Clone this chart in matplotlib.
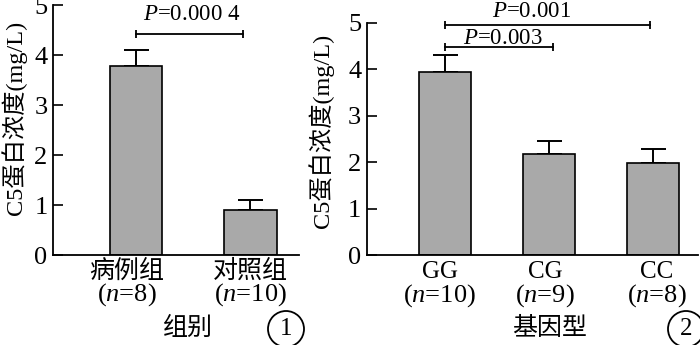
import matplotlib
matplotlib.use("Agg")
import matplotlib.pyplot as plt
from matplotlib.transforms import blended_transform_factory

plt.rcParams['font.family'] = ['Liberation Serif', 'Noto Sans CJK SC']
plt.rcParams['mathtext.fontset'] = 'custom'
plt.rcParams['mathtext.rm'] = 'Liberation Serif'
plt.rcParams['mathtext.it'] = 'Liberation Serif:italic'

# panel 1: case vs control
groups1 = ['病例组', '对照组']
n1 = ['8', '10']
means1 = [3.78, 0.90]
errs1 = [0.32, 0.20]
p1 = ['0.000 4']

# panel 2: genotypes
groups2 = ['GG', 'CG', 'CC']
n2 = ['10', '9', '8']
means2 = [3.94, 2.18, 1.99]
errs2 = [0.36, 0.28, 0.29]
p2 = ['0.003', '0.001']

W, H = 700, 345
BAR = '#a9a9a9'
fig = plt.figure(figsize=(W / 100, H / 100), dpi=100)


def px_axes(x0, x1, ytop, ybot):
    return fig.add_axes([x0 / W, 1 - ybot / H, (x1 - x0) / W, (ybot - ytop) / H])


def style(ax):
    for s in ['top', 'right']:
        ax.spines[s].set_visible(False)
    for s in ['left', 'bottom']:
        ax.spines[s].set_linewidth(1.3)
    ax.set_ylim(0, 5)
    ax.set_yticks(range(6))
    ax.tick_params(axis='y', direction='in', length=7, width=1.2, labelsize=19, pad=4)
    ax.set_xticks([])


def bars(ax, means, errs, width):
    x = list(range(len(means)))
    ax.bar(x, means, width=width, color=BAR, edgecolor='black', linewidth=1.2, zorder=2)
    ax.errorbar(x, means, yerr=[[0] * len(errs), errs], fmt='none', ecolor='black',
                elinewidth=1.4, capsize=9, capthick=1.4, zorder=1)


def xlabels(ax, names, ns, shifts, ypix_name, ypix_n):
    tr = blended_transform_factory(ax.transData, fig.transFigure)
    for i, (name, n) in enumerate(zip(names, ns)):
        ax.text(i + shifts[i], 1 - ypix_name / H, name, transform=tr, ha='center', va='center',
                fontsize=18)
        ax.text(i + shifts[i], 1 - ypix_n / H, '($n$=' + n + ')', transform=tr, ha='center',
                va='center', fontsize=19)


def bracket(ax, x0, x1, y, label, tx, ty, fs):
    ax.plot([x0, x1], [y, y], color='black', lw=1.3, marker='|', markersize=6,
            markeredgewidth=1.3, clip_on=False)
    ax.text(tx, ty, '$P$=' + label, ha='center', va='center', fontsize=fs, clip_on=False)


# left panel
ax1 = px_axes(53, 299, 5, 255)
style(ax1)
bars(ax1, means1, errs1, 0.455)
ax1.set_xlim(-0.725, 1.424)
xlabels(ax1, groups1, n1, [-0.08, 0.0], 271, 295)
bracket(ax1, 0, 0.934, 4.42, p1[0], 0.49, 4.8, 16.5)
ax1.set_ylabel('C5蛋白浓度(mg/L)', fontsize=17.5)
ax1.yaxis.set_label_coords(27 / W, 1 - 118 / H, transform=fig.transFigure)
fig.text(188 / W, 1 - 328 / H, '组别', ha='center', va='center', fontsize=18)
fig.text(286 / W, 1 - 329 / H, '1', ha='center', va='center', fontsize=18,
         bbox=dict(boxstyle='circle,pad=0.28', fc='none', ec='black', lw=1.3))

# right panel
ax2 = px_axes(366.7, 698, 22.7, 255)
style(ax2)
bars(ax2, means2, errs2, 0.5)
ax2.set_xlim(-0.753, 2.43)
xlabels(ax2, groups2, n2, [-0.05, -0.04, 0.03], 272, 296)
bracket(ax2, 0, 1.04, 4.47, p2[0], 0.55, 4.67, 16.5)
bracket(ax2, 0, 1.97, 4.95, p2[1], 0.83, 5.25, 16.5)
ax2.set_ylabel('C5蛋白浓度(mg/L)', fontsize=17.5)
ax2.yaxis.set_label_coords(334 / W, 1 - 131 / H, transform=fig.transFigure)
fig.text(550 / W, 1 - 328 / H, '基因型', ha='center', va='center', fontsize=18)
fig.text(686 / W, 1 - 329 / H, '2', ha='center', va='center', fontsize=18,
         bbox=dict(boxstyle='circle,pad=0.28', fc='none', ec='black', lw=1.3))

fig.savefig('out.png', dpi=100)
